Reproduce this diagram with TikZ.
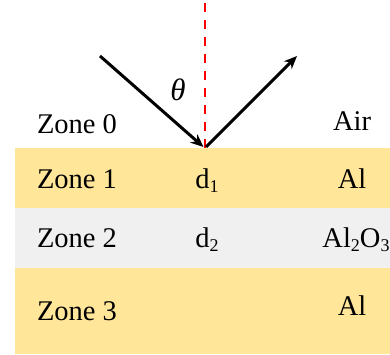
\documentclass[tikz,border=0pt]{standalone}
\usepackage{fontspec}
\setmainfont{Liberation Serif}
\usepackage{tikz}
\usetikzlibrary{arrows.meta}

\definecolor{alyellow}{HTML}{FFE699}
\definecolor{oxgray}{HTML}{F0F0F0}
\newcommand{\lowsub}[1]{\raisebox{-0.32ex}{\fontsize{18}{20}\selectfont #1}}

\begin{document}
\begin{tikzpicture}[x=1pt, y=1pt,
		lbl/.style={anchor=base, inner sep=0pt, font=\fontsize{28.5}{32}\selectfont},
		ray/.style={line width=3pt, -{Stealth[length=13pt, width=11pt]}}]

		% Column and row positions
		\def\xL{15}
		\def\xR{390}
		\def\xZ{77}
		\def\xD{207}
		\def\xM{352}
		\def\xN{205}

		\def\yone{206}
		\def\ytwo{146}
		\def\ythree{86}

		\useasboundingbox (0,0) rectangle (390,354);

		% --- Layers ---
		\fill[alyellow] (\xL, \yone) rectangle (\xR, \ytwo);
		\fill[oxgray] (\xL, \ytwo) rectangle (\xR, \ythree);
		\fill[alyellow] (\xL, \ythree) rectangle (\xR, 0);

		% --- Normal and rays ---
		\coordinate (top) at (\xN, 351);
		\coordinate (hit) at (\xN, \yone);
		\coordinate (src) at (100, 298);
		\coordinate (dst) at (297, 298);
		\draw[red, line width=2.4pt, dash pattern=on 9pt off 8pt] (top) -- (hit);
		\draw[ray] (src) -- ([xshift=-1.5pt, yshift=1pt]hit);
		\draw[ray] ([xshift=1pt, yshift=1pt]hit) -- (dst);
		\node[lbl, font=\fontsize{31}{34}\selectfont\itshape] (th) at (178, 254) {θ};

		% --- Labels ---
		\node[lbl] (z0) at (\xZ, 221) {Zone 0};
		\node[lbl] (air) at (\xM, 224) {Air};

		\node[lbl] (z1) at (\xZ, 166) {Zone 1};
		\node[lbl] (d1) at (\xD, 166) {d\lowsub{1}};
		\node[lbl] (m1) at (\xM, 166) {Al};

		\node[lbl] (z2) at (\xZ, 107) {Zone 2};
		\node[lbl] (d2) at (\xD, 107) {d\lowsub{2}};
		\node[lbl] (m2) at (356, 107) {Al\lowsub{2}O\lowsub{3}};

		\node[lbl] (z3) at (\xZ, 34) {Zone 3};
		\node[lbl] (m3) at (\xM, 39) {Al};

	\end{tikzpicture}
\end{document}
